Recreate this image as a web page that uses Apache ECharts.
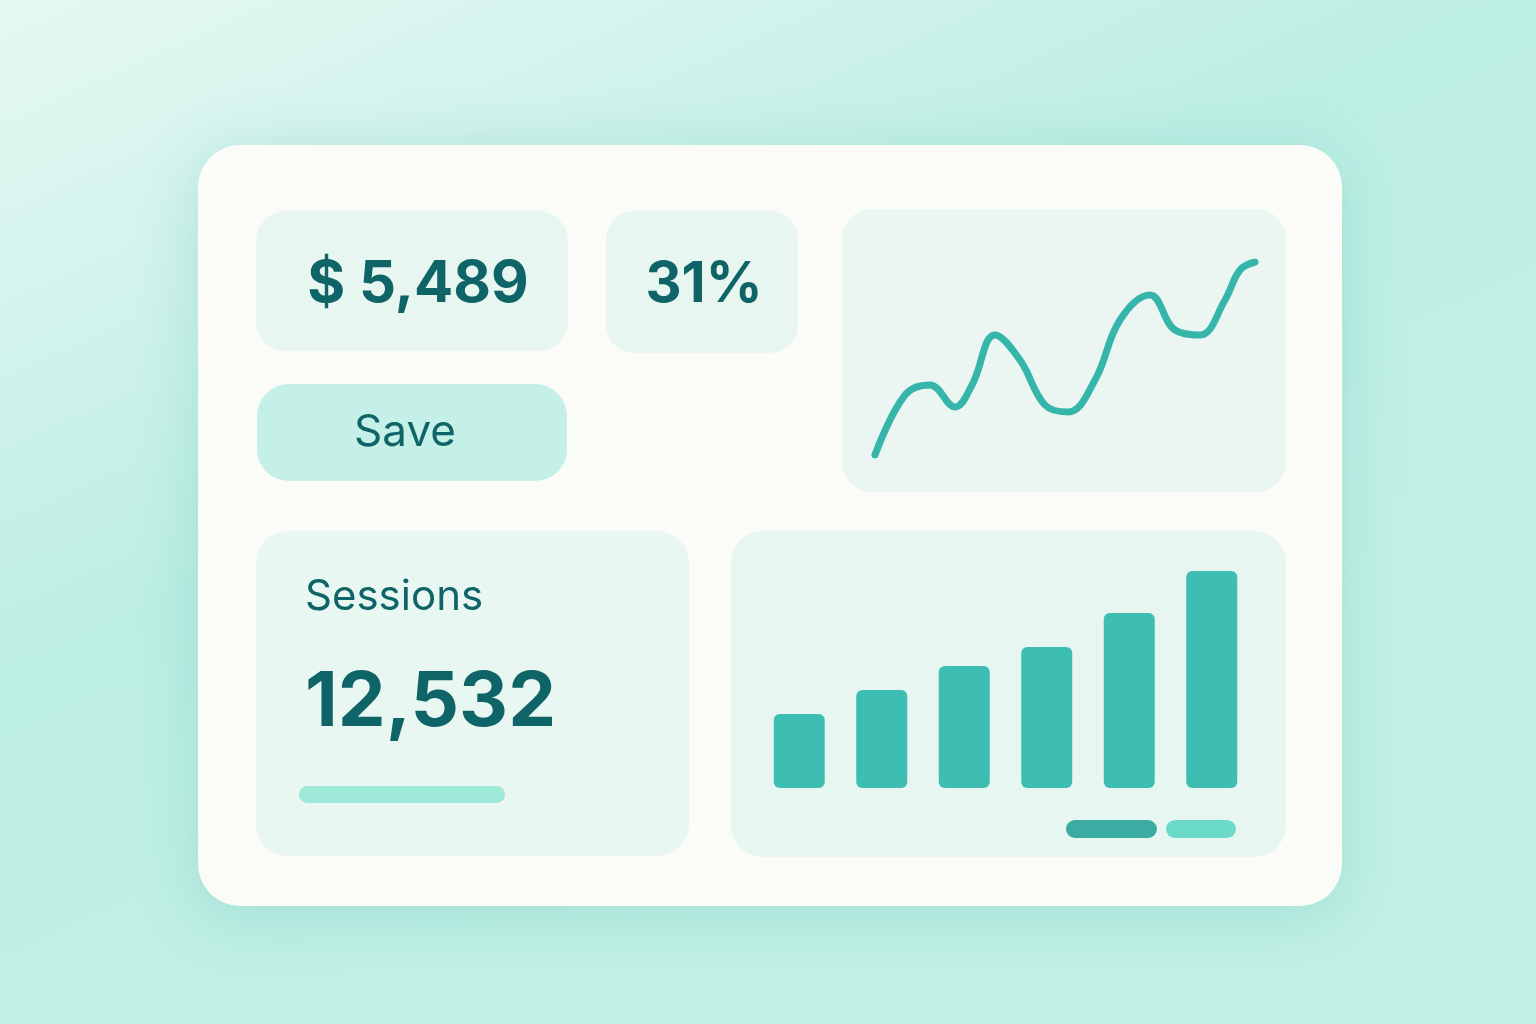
<!DOCTYPE html>
<html>
<head>
<meta charset="utf-8">
<script src="https://cdn.jsdelivr.net/npm/echarts@6/dist/echarts.min.js"></script>
<style>html,body{margin:0;padding:0;}#main{width:1536px;height:1024px;}</style>
</head>
<body>
<div id="main"></div>
<script>
// line sparkline (x position, value)
var lineX = [0, 30, 55, 80, 97, 120, 145, 170, 193, 220, 245, 275, 300, 325, 350, 365, 380];
var lineY = [5, 65, 75, 53, 75, 125, 100, 55, 48, 80, 140, 165, 130, 125, 160, 190, 198];
// bar chart
var barCats = ['1', '2', '3', '4', '5', '6'];
var barVals = [74, 98, 122, 141, 175, 217];
var kpiRevenue = '$ 5,489';
var kpiRate = '31%';
var buttonText = 'Save';
var sessionsLabel = 'Sessions';
var sessionsValue = '12,532';

var ink = '#0e6466';
var teal = '#36b5aa';
var font = 'Inter';

function card(x, y, w, h, r, fill) {
    return { type: 'rect', shape: { x: x, y: y, width: w, height: h, r: r }, style: { fill: fill }, z: -5 };
}
function label(x, y, text, size, weight, align) {
    return { type: 'text', x: x, y: y, z: 10,
        style: { text: text, fontSize: size, fontWeight: weight, fill: ink, fontFamily: font,
                 align: align || 'center', verticalAlign: 'middle' } };
}

var option = {
    backgroundColor: {
        type: 'linear', x: 0, y: 0, x2: 0.3, y2: 1,
        colorStops: [{ offset: 0, color: '#e6f8f3' }, { offset: 0.55, color: '#bdeee4' }, { offset: 1, color: '#c2f0e6' }]
    },
    graphic: [
        { type: 'rect', shape: { x: 198, y: 145, width: 1144, height: 761, r: 42 },
          style: { fill: '#fbfcf8', shadowBlur: 60, shadowColor: 'rgba(60,180,160,0.25)', shadowOffsetY: 10 }, z: -6 },
        card(256, 211, 312, 140, 30, '#e7f6f1'),
        card(606, 211, 192, 142, 28, '#e7f6f1'),
        card(257, 384, 310, 97, 32, '#c4f0e7'),
        card(842, 209, 444, 283, 30, '#ebf6f3'),
        card(256, 531, 433, 325, 32, '#e9f7f3'),
        card(731, 531, 555, 326, 32, '#e8f6f2'),
        { type: 'rect', shape: { x: 299, y: 786, width: 206, height: 17, r: 8.5 }, style: { fill: '#9ee9d8' }, z: 5 },
        { type: 'rect', shape: { x: 1066, y: 820, width: 91, height: 18, r: 9 }, style: { fill: '#3aaca2' }, z: 5 },
        { type: 'rect', shape: { x: 1166, y: 820, width: 70, height: 18, r: 9 }, style: { fill: '#6bdac9' }, z: 5 },
        label(418, 285, kpiRevenue, 58, 'bold'),
        label(704, 285, kpiRate, 56, 'bold'),
        label(405, 433, buttonText, 44, 'normal'),
        label(305, 597, sessionsLabel, 42, 'normal', 'left'),
        label(305, 703, sessionsValue, 76, 'bold', 'left')
    ],
    grid: [
        { left: 875, top: 262, width: 380, height: 193 },
        { left: 758, top: 571, width: 495, height: 217 }
    ],
    xAxis: [
        { gridIndex: 0, type: 'value', min: 0, max: 380, show: false },
        { gridIndex: 1, type: 'category', data: barCats, show: false }
    ],
    yAxis: [
        { gridIndex: 0, type: 'value', min: 5, max: 198, show: false },
        { gridIndex: 1, type: 'value', min: 0, max: 217, show: false }
    ],
    series: [
        { type: 'line', xAxisIndex: 0, yAxisIndex: 0, smooth: 0.4, showSymbol: false,
          lineStyle: { color: teal, width: 7, cap: 'round' },
          data: lineX.map(function (x, i) { return [x, lineY[i]]; }) },
        { type: 'bar', xAxisIndex: 1, yAxisIndex: 1, barWidth: 51, data: barVals,
          itemStyle: { color: '#3ebeb3', borderRadius: 6 } }
    ]
};
var chart = echarts.init(document.getElementById('main'));
chart.setOption(option);
</script>
</body>
</html>
